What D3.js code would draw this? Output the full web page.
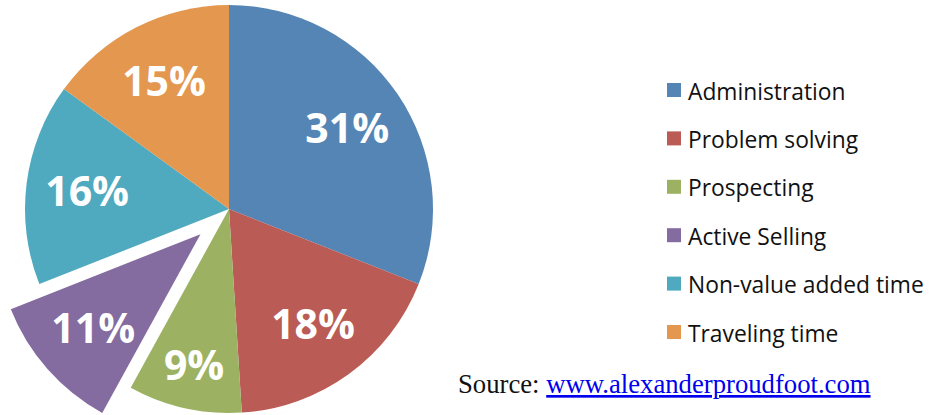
<!DOCTYPE html>
<html>
<head>
<meta charset="utf-8">
<script src="https://cdn.jsdelivr.net/npm/d3@7"></script>
<style>
  body { margin: 0; background: #fff; }
</style>
</head>
<body>
<svg id="chart" width="931" height="415"></svg>
<script>
const categories = [
  "Administration",
  "Problem solving",
  "Prospecting",
  "Active Selling",
  "Non-value added time",
  "Traveling time",
];
const values = [31, 18, 9, 11, 16, 15];
const colors = ["#5585B5", "#BA5B55", "#9CB262", "#846BA0", "#4FA9BF", "#E3974F"];
const exploded = ["Active Selling"];
const sourceLabel = "Source: ";
const sourceLink = "www.alexanderproudfoot.com";

const data = categories.map((c, i) => ({ name: c, value: values[i], color: colors[i] }));

const svg = d3.select("#chart");
const cx = 229, cy = 209, radius = 204, explodeDist = 38;

const pie = d3.pie().sort(null).value((d) => d.value);
const arc = d3.arc().innerRadius(0).outerRadius(radius);

const arcs = pie(data);
const g = svg.append("g").attr("transform", `translate(${cx},${cy})`);

// shift for exploded slices along the mid angle
const offset = (d) => {
  if (!exploded.includes(d.data.name)) return [0, 0];
  const a = (d.startAngle + d.endAngle) / 2;
  return [Math.sin(a) * explodeDist, -Math.cos(a) * explodeDist];
};

const slice = g
  .selectAll("g.slice")
  .data(arcs)
  .join("g")
  .attr("class", "slice")
  .attr("transform", (d) => `translate(${offset(d)})`);

slice.append("path").attr("d", arc).attr("fill", (d) => d.data.color);

// narrow slices get their label pushed out a bit, like Excel's best fit
const labelArc = (d) => {
  const r = d.endAngle - d.startAngle < 0.6 && !exploded.includes(d.data.name) ? 160 : 143;
  return d3.arc().innerRadius(r).outerRadius(r).centroid(d);
};

slice
  .append("text")
  .attr("transform", (d) => `translate(${labelArc(d)})`)
  .attr("dy", "0.36em")
  .attr("text-anchor", "middle")
  .attr("fill", "#fff")
  .attr("font-family", "'Open Sans', sans-serif")
  .attr("font-weight", "bold")
  .attr("font-size", 41)
  .text((d) => d.data.value + "%");

// legend
const legend = svg
  .append("g")
  .selectAll("g")
  .data(data)
  .join("g")
  .attr("transform", (d, i) => `translate(667,${90 + i * 48.4})`);

legend
  .append("rect")
  .attr("x", 0)
  .attr("y", -7)
  .attr("width", 14)
  .attr("height", 14)
  .attr("fill", (d) => d.color);

legend
  .append("text")
  .attr("x", 21)
  .attr("y", 9.5)
  .attr("fill", "#111")
  .attr("font-family", "'Open Sans', sans-serif")
  .attr("font-size", 22.8)
  .text((d) => d.name);

// source line
const src = svg
  .append("text")
  .attr("x", 458)
  .attr("y", 393)
  .attr("font-family", "'Liberation Serif', serif")
  .attr("font-size", 26.7)
  .attr("fill", "#111");
src.append("tspan").text(sourceLabel);
src
  .append("tspan")
  .attr("fill", "#0000EE")
  .attr("text-decoration", "underline")
  .text(sourceLink);
</script>
</body>
</html>
